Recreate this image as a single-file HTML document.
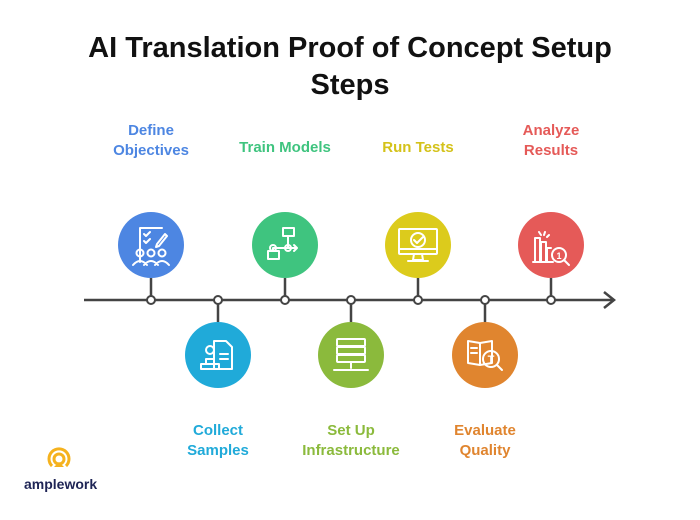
<!DOCTYPE html>
<html><head><style>
body{margin:0;width:700px;height:520px;background:#fff;font-family:"Liberation Sans",sans-serif;overflow:hidden;position:relative}
.t{position:absolute;left:0;width:700px;text-align:center;font-weight:bold;font-size:29px;color:#111;line-height:37px;top:30px}
.l{position:absolute;width:160px;text-align:center;font-weight:bold;font-size:15px;line-height:20px}
</style></head><body>
<div class="t">AI Translation Proof of Concept Setup<br>Steps</div>
<svg width="700" height="520" style="position:absolute;left:0;top:0">
<g stroke="#444" stroke-width="2.5" fill="none">
<line x1="84" y1="300" x2="614" y2="300"/>
<polyline points="604,292 614,300 604,308"/>
<line x1="151" y1="278" x2="151" y2="300"/><line x1="285" y1="278" x2="285" y2="300"/>
<line x1="418" y1="278" x2="418" y2="300"/><line x1="551" y1="278" x2="551" y2="300"/>
<line x1="218" y1="300" x2="218" y2="322"/><line x1="351" y1="300" x2="351" y2="322"/>
<line x1="485" y1="300" x2="485" y2="322"/>
</g>
<g fill="#fff" stroke="#444" stroke-width="2">
<circle cx="151" cy="300" r="4"/><circle cx="218" cy="300" r="4"/><circle cx="285" cy="300" r="4"/>
<circle cx="351" cy="300" r="4"/><circle cx="418" cy="300" r="4"/><circle cx="485" cy="300" r="4"/><circle cx="551" cy="300" r="4"/>
</g>
<circle cx="151" cy="245" r="33" fill="#4d86e2"/>
<circle cx="218" cy="355" r="33" fill="#20aad9"/>
<circle cx="285" cy="245" r="33" fill="#3fc47f"/>
<circle cx="351" cy="355" r="33" fill="#8bba3c"/>
<circle cx="418" cy="245" r="33" fill="#dccb1c"/>
<circle cx="485" cy="355" r="33" fill="#e0852f"/>
<circle cx="551" cy="245" r="33" fill="#e55a58"/>
<g stroke="#fff" stroke-width="2" fill="none" stroke-linecap="round" stroke-linejoin="round">
<path d="M140 262 V228 H162 M144 234 l2 2 4-4 M144 241 l2 2 4-4 M165 234 l-8 10 -1 3 3-1 8-10z"/>
<circle cx="140" cy="253" r="3.5"/><circle cx="151" cy="253" r="3.5"/><circle cx="162" cy="253" r="3.5"/>
<path d="M133 265 q7-8 14 0 M144 265 q7-8 14 0 M155 265 q7-8 14 0"/>
<path d="M214 341 h12 l6 6 v22 h-18z M220 354 h8 M220 359 h8"/>
<circle cx="210" cy="350" r="4"/><path d="M206 364 v-5 h8 v5 M201 364 h18 v5 h-18z"/>
<rect x="283" y="228" width="11" height="8"/><rect x="268" y="251" width="11" height="8"/>
<path d="M288 236 v12 M273 248 h24 l-3-3 M297 248 l-3 3 M273 248 v3"/><circle cx="273" cy="248" r="3"/><circle cx="288" cy="248" r="3"/>
<rect x="337" y="339" width="28" height="7" rx="1"/><rect x="337" y="347" width="28" height="7" rx="1"/><rect x="337" y="355" width="28" height="7" rx="1"/>
<path d="M351 362 v6 M334 370 h34"/>
<rect x="399" y="229" width="38" height="25" rx="1"/><path d="M399 249 h38 M414 254 l-1 6 h10 l-1-6 M408 261 h20"/>
<circle cx="418" cy="240" r="7"/><path d="M414 240 l3 3 6-6"/>
<path d="M468 341 l12 2 l12-2 v22 l-12 2 l-12-2z M480 343 v22 M471 348 h6 M471 353 h6"/>
<circle cx="491" cy="359" r="8"/><path d="M497 365 l5 5"/>
<path d="M535 262 v-24 h5 v24 M541 262 v-20 h5 v20 M547 262 v-14 h4 M533 262 h20 M539 232 l2 3 M545 232 l-1 3 M549 235 l-2 2"/>
<circle cx="559" cy="255" r="7"/><path d="M564 260 l5 5"/>
</g>
<text x="491" y="363" font-family="Liberation Sans" font-weight="bold" font-size="11" fill="#fff" text-anchor="middle">T</text>
<text x="559" y="259" font-family="Liberation Sans" font-weight="bold" font-size="9" fill="#fff" text-anchor="middle">1</text>
<g fill="none" stroke="#f5b21e" stroke-width="3">
<path d="M52 466 a10 10 0 1 1 14 0"/><circle cx="59" cy="459" r="5"/>
</g>
<path d="M54 467 l5-5 5 5z" fill="#f5b21e"/>
<text x="24" y="489" font-family="Liberation Sans" font-weight="bold" font-size="14" fill="#1e2455">amplework</text>
</svg>
<div class="l" style="left:71px;top:121px;color:#4d86e2">Define<br>Objectives</div>
<div class="l" style="left:205px;top:138px;color:#3fc47f">Train Models</div>
<div class="l" style="left:338px;top:138px;color:#d4c21a">Run Tests</div>
<div class="l" style="left:471px;top:121px;color:#e55a58">Analyze<br>Results</div>
<div class="l" style="left:138px;top:421px;color:#20aad9">Collect<br>Samples</div>
<div class="l" style="left:271px;top:421px;color:#8bba3c">Set Up<br>Infrastructure</div>
<div class="l" style="left:405px;top:421px;color:#e0852f">Evaluate<br>Quality</div>
</body></html>
